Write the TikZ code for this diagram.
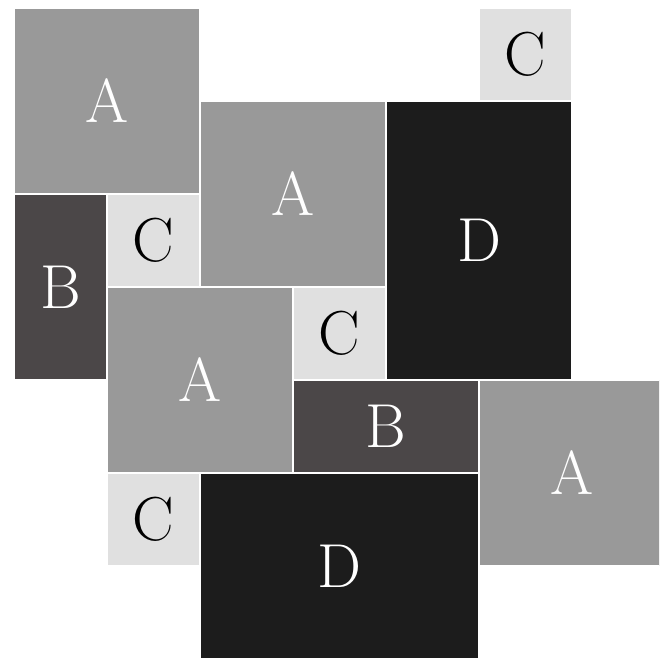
\documentclass[tikz,border=0pt]{standalone}
\usepackage{tikz}
\definecolor{tileAgray}{RGB}{153,153,153}
\definecolor{tileBgray}{RGB}{75,71,72}
\definecolor{tileCgray}{RGB}{224,224,224}
\definecolor{tileDgray}{RGB}{28,28,28}
\begin{document}
\begin{tikzpicture}[
  font=\fontsize{19}{22}\selectfont,
  tile/.style={draw=white,line width=0.6pt,anchor=north west,inner sep=0pt,align=center},
  tileA/.style={tile,fill=tileAgray,text=white,minimum width=2cm,minimum height=2cm},
  tileB/.style={tile,fill=tileBgray,text=white},
  tileC/.style={tile,fill=tileCgray,text=black,minimum width=1cm,minimum height=1cm},
  tileD/.style={tile,fill=tileDgray,text=white},
]
  \clip (-0.14,0.075) rectangle (6.946,-7.032);
  % top rows
  \node[tileA] (a1) at (0,0) {A};
  \node[tileC] (c1) at (5,0) {C};
  \node[tileA] (a2) at (2,-1) {A};
  \node[tileD,minimum width=2cm,minimum height=3cm] (d1) at (4,-1) {D};
  \node[tileB,minimum width=1cm,minimum height=2cm] (b1) at (0,-2) {B};
  \node[tileC] (c2) at (1,-2) {C};
  % middle rows
  \node[tileA] (a3) at (1,-3) {A};
  \node[tileC] (c3) at (3,-3) {C};
  \node[tileB,minimum width=2cm,minimum height=1cm] (b2) at (3,-4) {B};
  \node[tileA] (a4) at (5,-4) {A};
  % bottom rows
  \node[tileC] (c4) at (1,-5) {C};
  \node[tileD,minimum width=3cm,minimum height=2cm] (d2) at (2,-5) {D};
\end{tikzpicture}
\end{document}
